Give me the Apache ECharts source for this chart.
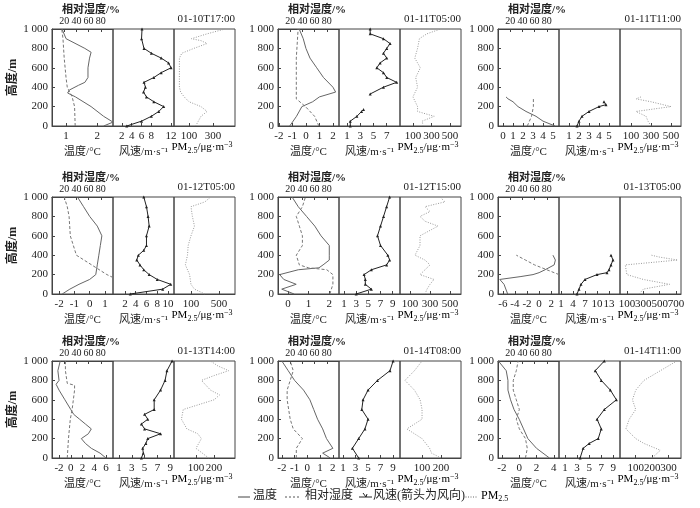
<!DOCTYPE html>
<html>
<head>
<meta charset="utf-8">
<script src="https://cdn.jsdelivr.net/npm/echarts@6/dist/echarts.min.js"></script>
<style>
  html, body { margin: 0; padding: 0; background: #fff; }
  #chart { width: 700px; height: 508px; }
</style>
</head>
<body>
<div id="chart"></div>
<script>
// 每组数据为 [数值, 高度/m]
const p1Temp = [[2.2,0],[2.5,40],[2.2,100],[1.8,200],[1.3,300],[1.05,340],[1.1,370],[1.4,420],[1.6,450],[1.7,500],[1.7,600],[1.75,700],[1.8,760],[1.6,800],[1.0,900],[0.87,1000]]
const p1Rh = [[38,0],[37,200],[33,300],[25,400],[23,500],[20,700],[18,900],[16,1000]]
const p1Wind = [[3,0],[6,50],[8,100],[9.5,150],[10.5,200],[8.5,250],[7,300],[6.4,350],[6.8,400],[6.5,450],[8.5,500],[10,550],[12,600],[11.5,650],[10,700],[8,750],[6.5,800],[6,900],[6.1,1000]]
const p1Pm = [[155,0],[200,100],[250,150],[200,200],[100,250],[60,300],[30,350],[20,400],[20,700],[40,750],[140,800],[250,850],[200,880],[120,900],[250,950],[400,1000]]

const p2Temp = [[-1.2,0],[-0.7,100],[-0.3,200],[0.5,250],[1.0,300],[2.2,350],[2.0,400],[1.3,500],[0.8,600],[0.3,700],[0,800],[-0.2,900],[-0.5,1000]]
const p2Rh = [[67,0],[60,100],[45,200],[30,280],[28,300],[30,500],[30,700],[33,1000]]
const p2Wind = [[1.5,0],[1.5,50],[2.5,100],[3.2,150],[3.5,170],['-',250],[4.5,330],[6.5,400],[8.5,450],[7,500],[6.5,550],[5.5,600],[6,650],[7,700],[6.5,750],[7,800],[7.5,850],[6.5,900],[4.5,950],[4.5,1000]]
const p2Pm = [[210,0],[200,50],[330,100],[150,150],[150,200],[100,300],[150,400],[130,500],[180,600],[120,700],[150,800],[170,900],[250,950],[400,1000]]

const p3Temp = [[5.2,0],[4.0,50],[3.3,100],[2.3,150],[1.5,200],[1.0,250],[0.5,280],[0.3,300]]
const p3Rh = [[48,0],[55,100],[58,200],[58,290]]
const p3Wind = [[1.8,0],[2.0,50],[2.3,100],[3.0,150],[4.0,200],[4.7,220],[4.5,250]]
const p3Pm = [[300,0],[270,50],[250,100],[150,150],[500,200],[300,250],[150,280],[200,300]]

const p4Temp = [[-1.8,0],[-1.3,50],[-0.7,100],[0,150],[0.4,200],[0.5,300],[0.6,400],[0.7,500],[0.8,600],[0.5,700],[0,800],[-0.4,900],[-0.8,1000]]
const p4Rh = [[100,170],[90,200],[65,300],[40,400],[35,500],[30,600],[28,800],[25,900],[20,1000]]
const p4Wind = [[3,0],[9,50],[10.5,100],[8,150],[6.5,200],[5.5,250],[4.8,300],[4.2,350],[4.5,400],[5.5,450],[6,500],[6,600],[6.5,700],[6.3,800],[6,900],[5.5,1000]]
const p4Pm = [[300,0],[150,50],[100,100],[80,200],[20,300],[50,400],[60,500],[100,600],[150,700],[120,800],[100,900],[300,950],[380,1000]]

const p5Temp = [[0.3,0],[-0.3,50],[0.4,100],[-0.2,150],[-0.4,200],[0.5,250],[1.5,270],[1.7,300],[2.0,350],[2.0,400],[2.0,500],[1.6,600],[1.3,700],[0.9,800],[0.5,900],[0.2,1000]]
const p5Rh = [[85,0],[90,100],[90,200],[80,250],[50,270],[35,300],[30,400],[40,500],[40,600],[35,700],[30,800],[40,900],[45,1000]]
const p5Wind = [[3,0],[5.5,50],[4.5,100],[4.5,150],[4.3,200],[5.5,250],[8,300],[8.5,350],[8.2,400],[7,500],[6.5,600],[7,700],[7.5,800],[8,900],[8.5,1000]]
const p5Pm = [[250,0],[270,50],[300,100],[340,150],[200,200],[300,300],[250,350],[150,400],[200,500],[200,600],[380,700],[250,750],[200,800],[300,850],[250,900],[450,950],[400,1000]]

const p6Temp = [[-5.2,0],[-5.8,100],[-6.5,150],[-3.0,180],[-1.0,200],[0,220],[1.0,250],[2.5,300],[2.7,350],[2.3,400]]
const p6Rh = [[100,200],[80,250],[60,300],[45,350],[30,400]]
const p6Wind = [[5,0],[5.5,50],[6,100],[7,150],[10,200],[12.5,220],[13,250],[13.5,300],[14,350],[13.5,400]]
const p6Pm = [[250,0],[300,50],[620,100],[300,150],[100,200],[80,300],[720,350],[500,380],[400,400]]

const p7Temp = [[6.0,0],[5.0,50],[3.5,100],[2.5,150],[1.8,200],[3.0,250],[3.5,300],[2.5,350],[1.5,400],[0.5,450],[0,500],[-1,600],[-2,700],[-2.5,760],[-2,800],[-2.2,900],[-1.8,1000]]
const p7Rh = [[25,0],[27,200],[30,400],[33,500],[37,700],[37,750],[25,770],[22,900],[22,1000]]
const p7Wind = [[4.5,0],[4.8,50],[4.7,100],[5.2,150],[5.5,200],[7.5,250],[5.0,300],[4.5,350],[5.5,400],[5.0,450],[6.5,500],[6.5,600],[7.5,700],[8.2,800],[8.5,900],[9.3,1000]]
const p7Pm = [[170,0],[100,100],[130,200],[110,250],[50,300],[20,400],[30,500],[200,600],[230,650],[180,700],[130,800],[200,850],[280,900],[220,950],[180,1000]]

const p8Temp = [[1.8,0],[1.2,50],[2.0,100],[1.5,200],[1.2,300],[0.8,400],[0.5,500],[0.2,600],[-0.3,700],[-1.0,800],[-1.5,900],[-2.0,1000]]
const p8Rh = [[30,0],[30,100],[40,200],[25,300],[20,400],[15,600],[15,700],[20,800],[25,900],[20,1000]]
const p8Wind = [[3.5,0],[2.5,100],[3.5,200],[4.5,300],[5.0,400],[4.0,500],[4.2,600],[5.0,700],[6.5,800],[8.5,900],[9.0,1000]]
const p8Pm = [[200,0],[150,50],[140,100],[100,200],[20,300],[60,350],[100,400],[100,500],[90,600],[60,700],[10,800],[60,900],[100,1000]]

const p9Temp = [[3.5,0],[2.0,100],[1.0,200],[0.5,300],[0,400],[-0.6,500],[-1.0,600],[-1.3,700],[-1.3,800],[-1.5,900],[-2.4,1000]]
const p9Rh = [[45,0],[48,100],[45,200],[35,300],[30,400],[35,500],[30,600],[25,700],[25,800],[30,900],[33,1000]]
const p9Wind = [[3.5,0],[4.0,100],[5.0,150],[6.5,200],[7.0,300],[6.3,400],[7.5,500],[9.5,600],[8.5,700],[7.0,800],[6.0,900],[7.5,1000]]
const p9Pm = [[200,0],[250,80],[150,150],[100,200],[40,300],[60,400],[100,500],[80,600],[100,700],[150,800],[250,900],[350,1000]]

const times = ['01-10T17:00','01-11T05:00','01-11T11:00','01-12T05:00','01-12T15:00','01-13T05:00','01-13T14:00','01-14T08:00','01-14T11:00']
const rhTicks = [20, 40, 60, 80]
const heightTicks = [0, 200, 400, 600, 800, 1000]

// [min, max, 刻度]
const tempAxes = [[0.55,2.5,[1,2]],[-2.07,2.45,[-2,-1,0,1,2]],[-0.5,5.6,[0,1,2,3,4,5]],[-2.47,1.53,[-2,-1,0,1]],[-0.48,2.47,[0,1,2]],[-6.8,3.3,[-6,-4,-2,0,2]],[-3.2,7.2,[-2,0,2,4,6]],[-2.3,2.48,[-2,-1,0,1,2]],[-2.45,4.6,[-2,0,2,4]]]
const windAxes = [[0.2,12.6,[2,4,6,8,10,12]],[-0.2,9,[1,3,5,7]],[0,6.1,[1,2,3,4,5]],[-0.2,11.1,[2,4,6,8,10]],[0.18,10.2,[1,3,5,7,9]],[0.5,15.75,[1,4,7,10,13]],[0.06,9.6,[1,3,5,7,9]],[0.36,10.1,[1,3,5,7,9]],[0,10.1,[1,3,5,7,9]]]
const pmAxes = [[-25,483,[100,300]],[-40,620,[100,300,500]],[-10,600,[100,300,500]],[-143,730,[100,300,500]],[0,610,[100,300,500]],[16,760,[100,300,500,700]],[-21,315,[100,200]],[-16,305,[100,200]],[4,376,[100,200,300]]]

const panels = [
  [p1Temp,p1Rh,p1Wind,p1Pm],[p2Temp,p2Rh,p2Wind,p2Pm],[p3Temp,p3Rh,p3Wind,p3Pm],
  [p4Temp,p4Rh,p4Wind,p4Pm],[p5Temp,p5Rh,p5Wind,p5Pm],[p6Temp,p6Rh,p6Wind,p6Pm],
  [p7Temp,p7Rh,p7Wind,p7Pm],[p8Temp,p8Rh,p8Wind,p8Pm],[p9Temp,p9Rh,p9Wind,p9Pm]
]

const colLeft = [52, 278, 498]
const rowTop = [29, 197, 361]
const subW = 61, boxH = 97
const FONT = '"Liberation Serif", "Noto Sans CJK SC", serif'
const txt = {color: '#222', fontFamily: FONT, fontSize: 11}

const grid = [], xAxis = [], yAxis = [], series = [], graphic = []

function xAx(gi, range, name, extra) {
  return Object.assign({
    type: 'value', gridIndex: gi, min: range[0], max: range[1], position: 'bottom',
    splitLine: {show: false},
    axisLine: {onZero: false, lineStyle: {color: '#444'}},
    axisTick: {inside: true, length: 3, customValues: range[2], lineStyle: {color: '#444'}},
    axisLabel: Object.assign({customValues: range[2], margin: 5, showMinLabel: true, showMaxLabel: true}, txt),
    name: name, nameLocation: 'middle', nameGap: 21, nameTextStyle: Object.assign({}, txt, {fontSize: 11})
  }, extra || {})
}

panels.forEach((p, k) => {
  const r = Math.floor(k / 3), c = k % 3
  const left = colLeft[c], top = rowTop[r]
  for (let s = 0; s < 3; s++) {
    const gi = grid.length
    grid.push({left: left + s * subW, top: top, width: subW, height: boxH,
      show: true, borderColor: '#444', borderWidth: 1, backgroundColor: 'transparent'})
    yAxis.push({
      type: 'value', gridIndex: gi, min: 0, max: 1000, splitLine: {show: false},
      axisLine: {show: s === 0, onZero: false, lineStyle: {color: '#444'}},
      axisTick: {show: s === 0, inside: true, length: 3, customValues: heightTicks, lineStyle: {color: '#444'}},
      axisLabel: Object.assign({show: s === 0, customValues: heightTicks, margin: 4,
        formatter: v => v === 1000 ? '1 000' : String(v)}, txt),
      name: (s === 0 && c === 0) ? '高度/m' : '', nameLocation: 'middle', nameGap: 30,
      nameTextStyle: Object.assign({}, txt, {fontSize: 12, fontWeight: 'bold'})
    })
    if (s === 0) {
      const xi = xAxis.length
      xAxis.push(xAx(gi, tempAxes[k], '温度/°C'))
      xAxis.push(xAx(gi, [0, 100, rhTicks], '', {position: 'top',
        axisLabel: Object.assign({customValues: rhTicks, margin: 3}, txt, {fontSize: 10})}))
      series.push({type: 'line', xAxisIndex: xi, yAxisIndex: gi, data: p[0], symbol: 'none',
        lineStyle: {color: '#666', width: 1}})
      series.push({type: 'line', xAxisIndex: xi + 1, yAxisIndex: gi, data: p[1], symbol: 'none',
        lineStyle: {color: '#777', width: 1, type: [3, 2]}})
    } else if (s === 1) {
      const xi = xAxis.length
      xAxis.push(xAx(gi, windAxes[k], '风速/m·s⁻¹'))
      series.push({type: 'line', xAxisIndex: xi, yAxisIndex: gi, data: p[2], connectNulls: false,
        symbol: 'triangle', symbolSize: 3, itemStyle: {color: '#222'},
        lineStyle: {color: '#222', width: 1}})
    } else {
      const xi = xAxis.length
      xAxis.push(xAx(gi, pmAxes[k], ''))
      series.push({type: 'line', xAxisIndex: xi, yAxisIndex: gi, data: p[3], symbol: 'none',
        lineStyle: {color: '#999', width: 1, type: [1, 1.5]}})
      graphic.push({type: 'text', left: left + 2 * subW + subW / 2 - 33, top: top + boxH + 15,
        style: {rich: {a: txt, b: Object.assign({}, txt, {fontSize: 8, padding: [6, 0, 0, 0]}),
          c: Object.assign({}, txt, {fontSize: 8, padding: [0, 0, 5, 0]})},
          text: '{a|PM}{b|2.5}{a|/μg·m}{c|−3}'}})
    }
  }
  graphic.push({type: 'text', left: left + 10, top: top - 24, style: {text: '相对湿度/%', fill: '#222', font: 'bold 11px ' + FONT}})
  graphic.push({type: 'text', right: 700 - (left + 3 * subW), top: top - 15, style: {text: times[k], fill: '#222', font: '11px ' + FONT}})
})

// 图例
const ly = 497
graphic.push(
  {type: 'line', shape: {x1: 238, y1: ly, x2: 250, y2: ly}, style: {stroke: '#444', lineWidth: 1}},
  {type: 'text', left: 253, top: ly - 7, style: {text: '温度', fill: '#222', font: '12px ' + FONT}},
  {type: 'line', shape: {x1: 285, y1: ly, x2: 300, y2: ly}, style: {stroke: '#555', lineWidth: 1, lineDash: [2, 2]}},
  {type: 'text', left: 305, top: ly - 7, style: {text: '相对湿度', fill: '#222', font: '12px ' + FONT}},
  {type: 'line', shape: {x1: 359, y1: ly, x2: 372, y2: ly}, style: {stroke: '#222', lineWidth: 1}},
  {type: 'polyline', shape: {points: [[363, ly - 4], [366, ly], [367, ly - 3]]}, style: {stroke: '#222', fill: null, lineWidth: 1}},
  {type: 'text', left: 373, top: ly - 7, style: {text: '风速(箭头为风向)', fill: '#222', font: '12px ' + FONT}},
  {type: 'line', shape: {x1: 463, y1: ly, x2: 478, y2: ly}, style: {stroke: '#666', lineWidth: 1, lineDash: [1, 1.5]}},
  {type: 'text', left: 481, top: ly - 7, style: {rich: {a: {fontSize: 12, fontFamily: FONT, color: '#222'},
    b: {fontSize: 8, fontFamily: FONT, color: '#222', padding: [5, 0, 0, 0]}}, text: '{a|PM}{b|2.5}'}}
)

const chart = echarts.init(document.getElementById('chart'))
chart.setOption({animation: false, grid, xAxis, yAxis, series, graphic})
</script>
</body>
</html>
